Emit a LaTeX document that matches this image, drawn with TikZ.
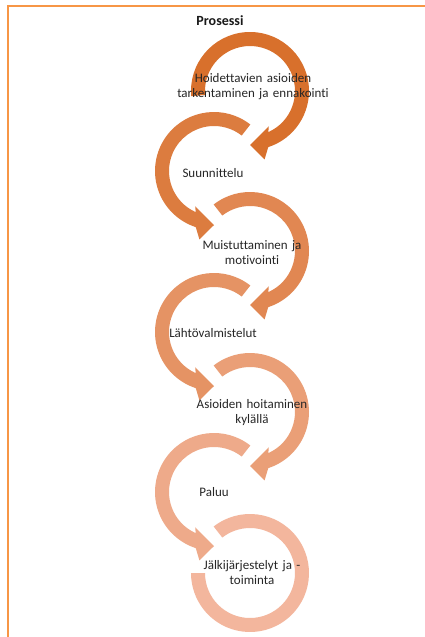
\documentclass[tikz,border=0pt]{standalone}
\usepackage{fontspec}
\setmainfont{Carlito}[Ligatures={NoCommon}]
\newfontfamily\lblfont{Carlito}[Ligatures={NoCommon},WordSpace=1.5]
\definecolor{cA}{RGB}{216,112,44}
\definecolor{cB}{RGB}{220,124,63}
\definecolor{cC}{RGB}{225,135,82}
\definecolor{cD}{RGB}{229,147,100}
\definecolor{cE}{RGB}{234,159,119}
\definecolor{cF}{RGB}{238,170,138}
\definecolor{cG}{RGB}{243,182,157}
\definecolor{frameor}{RGB}{247,150,70}
\tikzset{
  pics/cwarr/.style={code={
    \fill (#1:59pt) arc[start angle=#1,end angle=-72,radius=59pt]
      -- (-78:70pt) -- (-90:54pt) -- (-62:40pt) -- (-66:45pt)
      arc[start angle=-66,end angle=#1,radius=45pt] -- cycle;
  }},
  pics/ccwarr/.style={code={
    \fill (#1:59pt) arc[start angle=#1,end angle=252,radius=59pt]
      -- (258:70pt) -- (270:54pt) -- (242:40pt) -- (246:45pt)
      arc[start angle=246,end angle=#1,radius=45pt] -- cycle;
  }},
  pics/lastring/.style={code={
    \fill (#1:59pt) arc[start angle=#1,end angle=-180,radius=59pt]
      -- (180:45pt) arc[start angle=-180,end angle=#1,radius=45pt] -- cycle;
  }},
  lbl/.style={font=\lblfont\fontsize{13}{15}\selectfont, text=black!85, align=center, inner sep=0pt},
  ttl/.style={font=\fontsize{14}{16}\selectfont\bfseries, text=black!90, inner sep=0pt}
}
\begin{document}
\begin{tikzpicture}[x=1pt,y=1pt]
\useasboundingbox (0,0) rectangle (424,-637);
\fill[white] (0,0) rectangle (424,-637);
\draw[frameor, line width=1.5pt] (8,-645) -- (8,-6) -- (432,-6);
\pic[cA] at (250,-91) {cwarr=185};
\pic[cB] at (214,-171) {ccwarr=52};
\pic[cC] at (250,-251) {cwarr=128};
\pic[cD] at (214,-332) {ccwarr=52};
\pic[cE] at (250,-412) {cwarr=128};
\pic[cF] at (214,-492) {ccwarr=52};
\pic[cG] at (250,-573) {lastring=128};
\node[ttl] (title) at (220,-21) {Prosessi};
\node[lbl] (t1) at (253,-87) {Hoidettavien asioiden\\tarkentaminen ja ennakointi};
\node[lbl] (t2) at (213,-173) {Suunnittelu};
\node[lbl] (t3) at (252,-253) {Muistuttaminen ja\\motivointi};
\node[lbl] (t4) at (213,-333) {Lähtövalmistelut};
\node[lbl] (t5) at (252,-413) {Asioiden hoitaminen\\kylällä};
\node[lbl] (t6) at (214,-492) {Paluu};
\node[lbl] (t7) at (252,-573) {Jälkijärjestelyt ja -\\toiminta};
\end{tikzpicture}
\end{document}
